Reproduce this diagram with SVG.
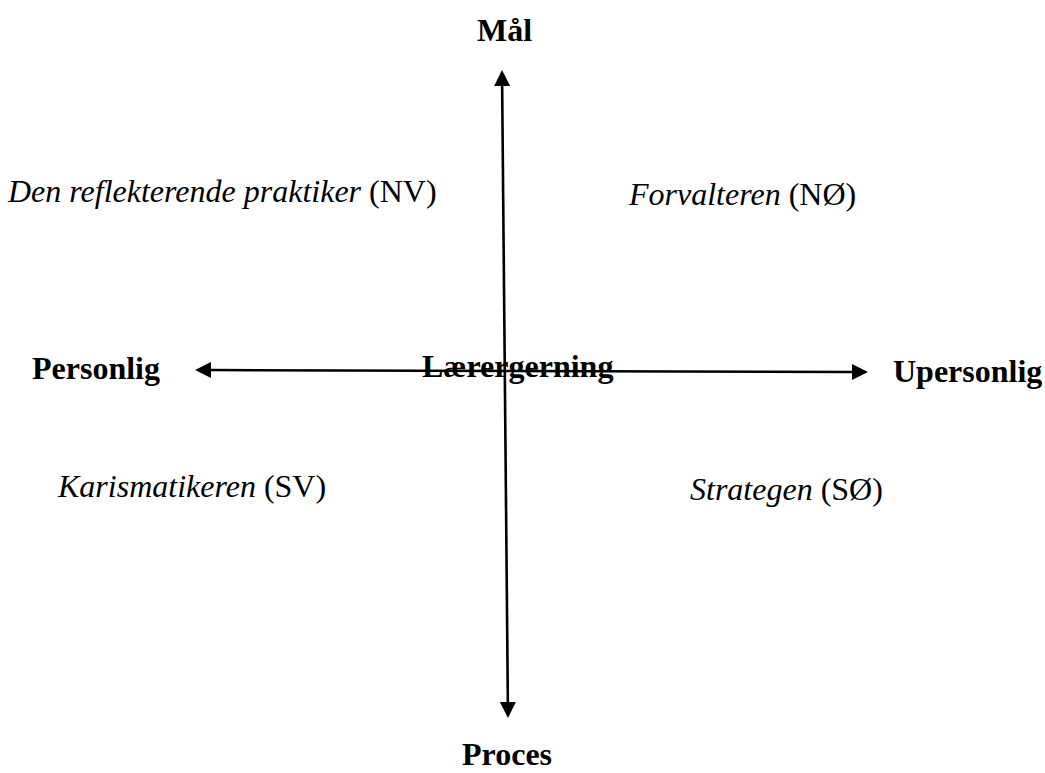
<svg xmlns="http://www.w3.org/2000/svg" width="1045" height="773" viewBox="0 0 1045 773">
  <style>
    .axis-label { font-family: "Liberation Serif", "Times New Roman", serif; font-size: 32px; font-weight: bold; fill: #000; }
    .quad { font-family: "Liberation Serif", "Times New Roman", serif; font-size: 32px; fill: #000; }
    .quad .name { font-style: italic; }
    .axis { fill: none; stroke: #000; stroke-width: 2.6; }
  </style>
  <defs>
    <marker id="head" viewBox="0 -8 16 16" markerUnits="userSpaceOnUse" markerWidth="16" markerHeight="16" refX="0" refY="0" orient="auto-start-reverse" overflow="visible">
      <path d="M0,-8 L16,0 L0,8 Z" fill="#000"/>
    </marker>
  </defs>
  <rect width="1045" height="773" fill="#fff"/>

  <g id="connectors">
    <!-- vertical axis: Mål (top) to Proces (bottom) -->
    <path class="axis" d="M502.15,86 L507.85,702" marker-start="url(#head)" marker-end="url(#head)"/>
    <!-- horizontal axis: Personlig (left) to Upersonlig (right) -->
    <path class="axis" d="M211,370.05 L852,371.95" marker-start="url(#head)" marker-end="url(#head)"/>
  </g>

  <g id="maal"><text class="axis-label" x="477" y="41">Mål</text></g>
  <g id="proces"><text class="axis-label" x="462" y="765">Proces</text></g>
  <g id="personlig"><text class="axis-label" x="32" y="379">Personlig</text></g>
  <g id="upersonlig"><text class="axis-label" x="893" y="382">Upersonlig</text></g>
  <g id="laerergerning"><text class="axis-label" x="422" y="377">Lærergerning</text></g>

  <g id="nv"><text class="quad" x="8" y="202"><tspan class="name">Den reflekterende praktiker</tspan> (NV)</text></g>
  <g id="no"><text class="quad" x="629" y="205"><tspan class="name">Forvalteren</tspan> (NØ)</text></g>
  <g id="sv"><text class="quad" x="58" y="497"><tspan class="name">Karismatikeren</tspan> (SV)</text></g>
  <g id="so"><text class="quad" x="690" y="500"><tspan class="name">Strategen</tspan> (SØ)</text></g>
</svg>
